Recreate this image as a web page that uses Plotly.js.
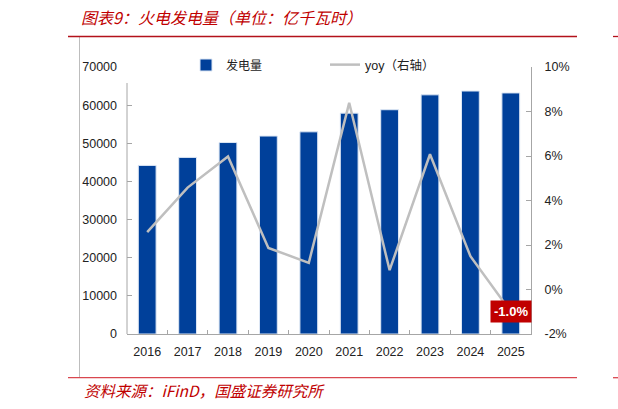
<!DOCTYPE html>
<html>
<head>
<meta charset="utf-8">
<script src="https://cdn.plot.ly/plotly-3.0.1.min.js"></script>
<style>html,body{margin:0;padding:0;background:#fff;}#chart{width:618px;height:409px;}</style>
</head>
<body>
<div id="chart"></div>
<script>
// ---- data ----
const years = ['2016','2017','2018','2019','2020','2021','2022','2023','2024','2025'];
const generation = [44200, 46300, 50200, 51900, 53000, 57900, 58800, 62700, 63700, 63200]; // 亿千瓦时
const yoy = [0.0258, 0.0458, 0.0598, 0.0187, 0.0120, 0.0839, 0.0087, 0.0608, 0.0150, -0.0100];
const leftTicks = [0, 10000, 20000, 30000, 40000, 50000, 60000, 70000];
const rightTicks = [-0.02, 0, 0.02, 0.04, 0.06, 0.08, 0.10];
const rightTickText = ['-2%', '0%', '2%', '4%', '6%', '8%', '10%'];

// ---- layout geometry (pixels) ----
const W = 618, H = 409;
const L = 127, R = 531, T = 67, B = 334;
const px = x => (x - L) / (R - L);
const py = y => (B - y) / (B - T);

const red = '#C00000';
const axisGray = '#A6A6A6';
const tickFont = {family: 'Liberation Sans, Arial, sans-serif', size: 12.5, color: '#222'};

const traces = [
  {
    type: 'bar', name: '发电量', x: years, y: generation,
    marker: {color: '#00409A', line: {color: '#DCE6F4', width: 1}},
    legend: 'legend', hoverinfo: 'skip'
  },
  {
    type: 'scatter', mode: 'lines', name: 'yoy（右轴）', x: years, y: yoy, yaxis: 'y2',
    line: {color: '#BFBFBF', width: 2.5},
    legend: 'legend2', hoverinfo: 'skip'
  }
];

const last = years.length - 1;

const layout = {
  width: W, height: H,
  margin: {l: L, r: W - R, t: T, b: H - B, pad: 0},
  paper_bgcolor: '#fff', plot_bgcolor: '#fff',
  bargap: 0.56,
  showlegend: true,
  title: {
    text: '<i>图表9：火电发电量（单位：亿千瓦时）</i>',
    font: {family: 'Noto Sans CJK SC, sans-serif', size: 16, color: red},
    x: 81 / W, xanchor: 'left', xref: 'container',
    y: 1 - 18 / H, yanchor: 'middle', yref: 'container'
  },
  xaxis: {
    type: 'category', categoryorder: 'array', categoryarray: years,
    range: [-0.5, years.length - 0.5], tickfont: tickFont, tickangle: 0,
    showline: true, linecolor: axisGray, linewidth: 1,
    ticks: 'inside', tickson: 'boundaries', ticklen: 4, tickcolor: axisGray,
    showgrid: false, zeroline: false, ticklabelstandoff: 6, fixedrange: true
  },
  yaxis: {
    range: [0, 70000], tickvals: leftTicks, tickformat: 'd', tickfont: tickFont,
    showline: false, ticks: 'inside', ticklen: 5, tickcolor: axisGray,
    showgrid: false, zeroline: false, ticklabelstandoff: 9, fixedrange: true
  },
  yaxis2: {
    overlaying: 'y', side: 'right',
    range: [-0.02, 0.10], tickvals: rightTicks, ticktext: rightTickText, tickfont: tickFont,
    showline: true, linecolor: axisGray, linewidth: 1,
    ticks: 'inside', ticklen: 5, tickcolor: axisGray,
    showgrid: false, zeroline: false, ticklabelstandoff: 10, fixedrange: true
  },
  legend: {
    orientation: 'h', x: px(186), xanchor: 'left', y: py(65), yanchor: 'middle',
    font: {family: 'Noto Sans CJK SC, sans-serif', size: 12, color: '#222'},
    bgcolor: 'rgba(0,0,0,0)', borderwidth: 0
  },
  legend2: {
    orientation: 'h', x: px(325), xanchor: 'left', y: py(65), yanchor: 'middle',
    font: {family: 'Liberation Sans, Noto Sans CJK SC, sans-serif', size: 12.5, color: '#222'},
    bgcolor: 'rgba(0,0,0,0)', borderwidth: 0
  },
  annotations: [
    {
      x: last, y: yoy[last], xref: 'x', yref: 'y2',
      text: '<b>' + (yoy[last] * 100).toFixed(1) + '%</b>', showarrow: false,
      font: {family: 'Liberation Sans, Arial, sans-serif', size: 13, color: '#fff'},
      bgcolor: red, borderpad: 3
    },
    {
      x: px(82), y: py(390), xref: 'paper', yref: 'paper', xanchor: 'left', yanchor: 'middle',
      text: '<i>资料来源：iFinD，国盛证券研究所</i>', showarrow: false,
      font: {family: 'Noto Sans CJK SC, sans-serif', size: 15.5, color: red}
    }
  ],
  shapes: [
    {type: 'line', xref: 'paper', yref: 'paper', x0: 0, x1: 0, y0: 0, y1: py(83),
     line: {color: axisGray, width: 1}},
    {type: 'line', xref: 'paper', yref: 'paper', x0: px(79.5), x1: px(79.5), y0: py(37), y1: py(377),
     line: {color: '#BDBDBD', width: 1}},
    {type: 'line', xref: 'paper', yref: 'paper', x0: px(68), x1: px(577), y0: py(36.5), y1: py(36.5),
     line: {color: '#B3121B', width: 1.3}},
    {type: 'line', xref: 'paper', yref: 'paper', x0: px(613), x1: px(618), y0: py(36.5), y1: py(36.5),
     line: {color: '#B3121B', width: 1.3}},
    {type: 'line', xref: 'paper', yref: 'paper', x0: px(68), x1: px(577), y0: py(377.7), y1: py(377.7),
     line: {color: '#D9474F', width: 1.3}},
    {type: 'line', xref: 'paper', yref: 'paper', x0: px(613), x1: px(618), y0: py(377.7), y1: py(377.7),
     line: {color: '#D9474F', width: 1.3}}
  ]
};

Plotly.newPlot('chart', traces, layout, {displayModeBar: false, staticPlot: true});
</script>
</body>
</html>
